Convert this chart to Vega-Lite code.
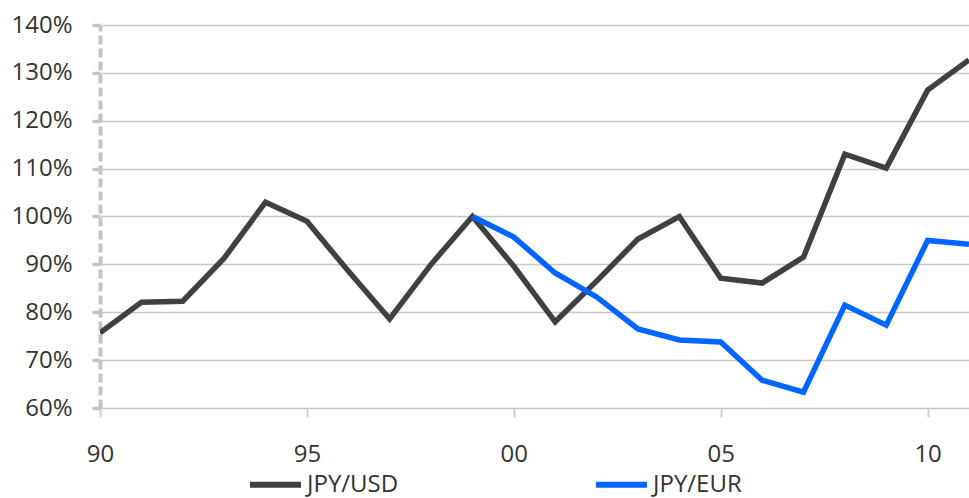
{
  "$schema": "https://vega.github.io/schema/vega-lite/v6.json",
  "width": 869,
  "height": 383,
  "autosize": {"type": "none"},
  "padding": {"left": 100, "top": 25, "right": 0, "bottom": 90},
  "background": "white",
  "config": {
    "view": {"stroke": null},
    "font": "Open Sans",
    "axis": {"labelFont": "Open Sans", "labelFontSize": 24, "labelColor": "#333333"},
    "legend": {"labelFont": "Open Sans", "labelFontSize": 24, "labelColor": "#333333"}
  },
  "data": {
    "values": [
      {"year": 1990, "series": "JPY/USD", "value": 0.757},
      {"year": 1991, "series": "JPY/USD", "value": 0.821},
      {"year": 1992, "series": "JPY/USD", "value": 0.823},
      {"year": 1993, "series": "JPY/USD", "value": 0.913},
      {"year": 1994, "series": "JPY/USD", "value": 1.03},
      {"year": 1995, "series": "JPY/USD", "value": 0.99},
      {"year": 1996, "series": "JPY/USD", "value": 0.886},
      {"year": 1997, "series": "JPY/USD", "value": 0.786},
      {"year": 1998, "series": "JPY/USD", "value": 0.90},
      {"year": 1999, "series": "JPY/USD", "value": 1.00},
      {"year": 2000, "series": "JPY/USD", "value": 0.896},
      {"year": 2001, "series": "JPY/USD", "value": 0.78},
      {"year": 2002, "series": "JPY/USD", "value": 0.865},
      {"year": 2003, "series": "JPY/USD", "value": 0.953},
      {"year": 2004, "series": "JPY/USD", "value": 1.00},
      {"year": 2005, "series": "JPY/USD", "value": 0.871},
      {"year": 2006, "series": "JPY/USD", "value": 0.861},
      {"year": 2007, "series": "JPY/USD", "value": 0.915},
      {"year": 2008, "series": "JPY/USD", "value": 1.13},
      {"year": 2009, "series": "JPY/USD", "value": 1.101},
      {"year": 2010, "series": "JPY/USD", "value": 1.264},
      {"year": 2011, "series": "JPY/USD", "value": 1.327},
      {"year": 1999, "series": "JPY/EUR", "value": 1.00},
      {"year": 2000, "series": "JPY/EUR", "value": 0.957},
      {"year": 2001, "series": "JPY/EUR", "value": 0.882},
      {"year": 2002, "series": "JPY/EUR", "value": 0.832},
      {"year": 2003, "series": "JPY/EUR", "value": 0.765},
      {"year": 2004, "series": "JPY/EUR", "value": 0.742},
      {"year": 2005, "series": "JPY/EUR", "value": 0.738},
      {"year": 2006, "series": "JPY/EUR", "value": 0.658},
      {"year": 2007, "series": "JPY/EUR", "value": 0.633},
      {"year": 2008, "series": "JPY/EUR", "value": 0.815},
      {"year": 2009, "series": "JPY/EUR", "value": 0.773},
      {"year": 2010, "series": "JPY/EUR", "value": 0.95},
      {"year": 2011, "series": "JPY/EUR", "value": 0.942}
    ]
  },
  "mark": {"type": "line", "strokeWidth": 5.5, "strokeJoin": "miter", "clip": true},
  "encoding": {
    "x": {
      "field": "year",
      "type": "quantitative",
      "scale": {"domain": [1990, 2011], "nice": false, "zero": false},
      "axis": {
        "title": null,
        "values": [1990, 1995, 2000, 2005, 2010],
        "labelExpr": "slice('0' + (datum.value % 100), -2)",
        "grid": false,
        "domain": false,
        "ticks": true,
        "tickColor": "#d0d0d0",
        "tickWidth": 2,
        "tickSize": 9,
        "labelPadding": 25,
        "labelFlush": false
      }
    },
    "y": {
      "field": "value",
      "type": "quantitative",
      "scale": {"domain": [0.6, 1.4], "nice": false, "zero": false},
      "axis": {
        "title": null,
        "values": [0.6, 0.7, 0.8, 0.9, 1.0, 1.1, 1.2, 1.3, 1.4],
        "format": ".0%",
        "grid": true,
        "gridColor": "#c8c8c8",
        "gridWidth": 1.3,
        "domain": true,
        "domainColor": "#c4c4c4",
        "domainWidth": 4,
        "domainDash": [9, 4],
        "tickColor": "#c4c4c4",
        "tickWidth": 3.5,
        "tickSize": 8,
        "labelPadding": 20
      }
    },
    "color": {
      "field": "series",
      "type": "nominal",
      "scale": {"domain": ["JPY/USD", "JPY/EUR"], "range": ["#404040", "#0066ff"]},
      "legend": {
        "title": null,
        "orient": "none",
        "legendX": 147,
        "legendY": 431,
        "padding": 0,
        "direction": "horizontal",
        "symbolType": "stroke",
        "symbolStrokeWidth": 6,
        "symbolSize": 2601,
        "labelOffset": 3,
        "columnPadding": 185
      }
    }
  }
}
